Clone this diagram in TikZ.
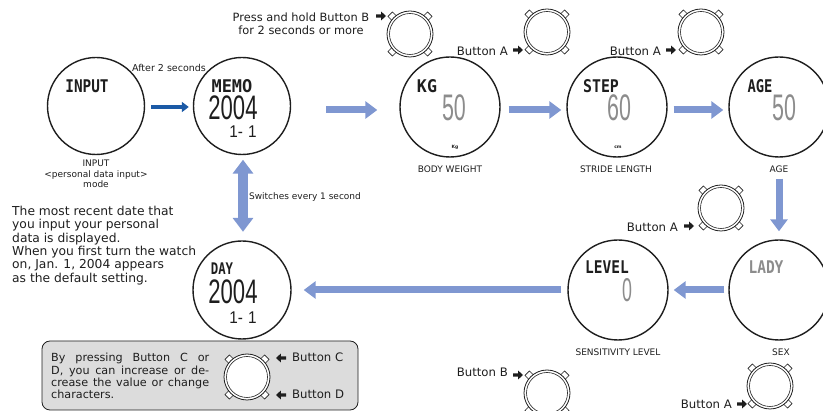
\documentclass[tikz,border=0pt]{standalone}
\usepackage{fontspec}
\usepackage{graphicx}
\setmainfont{DejaVu Sans}
\newfontfamily\lcdsym{DejaVu Sans Mono}
\newfontfamily\lcdnum{Liberation Sans}
\usetikzlibrary{arrows.meta}
\definecolor{lb}{HTML}{7F97D1}
\definecolor{db}{HTML}{1B5AA6}
\definecolor{lcdgray}{HTML}{8C8C8C}
\definecolor{boxgray}{HTML}{DCDCDC}
\definecolor{ink}{HTML}{1E1E1E}
\newcommand{\myfs}[2]{\fontsize{#1}{#2}\selectfont}
\begin{document}
\begin{tikzpicture}[x=1pt,y=-1pt,
  bigwatch/.style={circle, draw=ink, line width=1.4pt, inner sep=0pt},
  lbl/.style={font=\myfs{9}{10.7}, text=ink, inner sep=0pt, align=center},
  btn/.style={font=\myfs{11.7}{13}, text=ink, inner sep=0pt},
  lcdw/.style={font=\lcdsym\bfseries\myfs{17.5}{18}, text=ink, inner sep=0pt},
  lcdn/.style={font=\lcdnum\myfs{34}{35}, text=ink, inner sep=0pt},
  flow/.style={draw=lb, line width=7pt, -{Triangle[length=12pt,width=17pt]}},
  flowv/.style={draw=lb, line width=9.5pt, {Triangle[length=14pt,width=20pt]}-{Triangle[length=14pt,width=20pt]}},
  flowd/.style={draw=db, line width=4pt, -{Triangle[length=7pt,width=10pt]}},
  mwatch/.pic={
    \foreach \a in {45,135,225,315}{
      \draw[fill=white, draw=ink, line width=0.6pt, rotate=\a] (21.5,-3.2) rectangle (28,3.2);}
    \draw[fill=white, draw=ink, line width=0.8pt] (0,0) circle (23pt);
    \draw[draw=ink, line width=0.6pt] (0,0) circle (20.5pt);
  },
  fatr/.pic={\fill[ink] (-10,-1.7) -- (-4.8,-1.7) -- (-4.8,-4.4) -- (0,0) -- (-4.8,4.4) -- (-4.8,1.7) -- (-10,1.7) -- cycle;}
]
\useasboundingbox (0,0) rectangle (823,411);

% big watches
\node[bigwatch, minimum size=97pt] (input) at (96,106) {};
\node[bigwatch, minimum size=97pt] (memo) at (242,106) {};
\node[bigwatch, minimum size=100pt] (kg) at (450,107) {};
\node[bigwatch, minimum size=100pt] (step) at (617,107) {};
\node[bigwatch, minimum size=100pt] (age) at (779,107) {};
\node[bigwatch, minimum size=100pt] (lady) at (779,290) {};
\node[bigwatch, minimum size=100pt] (level) at (618,290) {};
\node[bigwatch, minimum size=98pt] (day) at (242,290) {};

% LCD contents
\node[lcdw] (tinput) at (87,86) {\scalebox{0.82}[1]{INPUT}};
\node[lcdw] (tmemo) at (232,86) {\scalebox{0.97}[1]{MEMO}};
\node[lcdn] (ymemo) at (233,108) {\scalebox{0.65}[1]{2004}};
\node[lcdn, font=\lcdnum\myfs{17}{18}] (dmemo) at (243,132) {\scalebox{0.9}[1]{1-\,\,1}};
\node[lcdw] (tkg) at (427,86) {\scalebox{0.95}[1]{KG}};
\node[lcdn, text=lcdgray, font=\lcdnum\myfs{37}{38}] (vkg) at (454,108) {\scalebox{0.58}[1]{50}};
\node[font=\bfseries\myfs{4.5}{5}, text=ink, inner sep=0pt] (ukg) at (455,147) {Kg};
\node[lcdw] (tstep) at (601,86) {\scalebox{0.85}[1]{STEP}};
\node[lcdn, text=lcdgray, font=\lcdnum\myfs{37}{38}] (vstep) at (619,108) {\scalebox{0.58}[1]{60}};
\node[font=\bfseries\myfs{4.5}{5}, text=ink, inner sep=0pt] (ustep) at (618,147) {cm};
\node[lcdw] (tage) at (760,86) {\scalebox{0.79}[1]{AGE}};
\node[lcdn, text=lcdgray, font=\lcdnum\myfs{37}{38}] (vage) at (784,108) {\scalebox{0.58}[1]{50}};
\node[lcdw, text=lcdgray] (tlady) at (766,267) {\scalebox{0.83}[1]{LADY}};
\node[lcdw] (tlevel) at (607,267) {\scalebox{0.83}[1]{LEVEL}};
\node[lcdn, text=lcdgray, font=\lcdnum\myfs{33}{34}] (vlevel) at (627,290) {\scalebox{0.54}[1]{0}};
\node[lcdw, font=\lcdsym\bfseries\myfs{16}{17}] (tday) at (222,269) {\scalebox{0.77}[1]{DAY}};
\node[lcdn] (yday) at (233,292) {\scalebox{0.65}[1]{2004}};
\node[lcdn, font=\lcdnum\myfs{17}{18}] (dday) at (243,318) {\scalebox{0.9}[1]{1-\,\,1}};

% labels
\node[lbl] (linput) at (96,174) {INPUT\\<personal data input>\\mode};
\node[lbl, font=\myfs{9.5}{11}] (lafter) at (169,68) {After 2 seconds};
\node[lbl] (lkg) at (450,169) {BODY WEIGHT};
\node[lbl] (lstep) at (616,169) {STRIDE LENGTH};
\node[lbl] (lage) at (779,169) {AGE};
\node[lbl] (llevel) at (618,352) {SENSITIVITY LEVEL};
\node[lbl] (lsex) at (781,352) {SEX};
\node[lbl] (lswitch) at (305,197) {Switches every 1 second};

\node[font=\myfs{12.3}{13.3}, text=ink, inner sep=0pt, align=left, anchor=north west] (para) at (12,206)
  {The most recent date that\\you input your personal\\data is displayed.\\When you first turn the watch\\on, Jan. 1, 2004 appears\\as the default setting.};

% flow arrows
\draw[flowd, shorten <=6pt, shorten >=4pt] ([yshift=-1pt]input.east) -- ([yshift=-1pt]memo.west);
\draw[flow, shorten <=35pt, shorten >=22pt] ([yshift=-4pt]memo.east) -- ([yshift=-3pt]kg.west);
\draw[flow, shorten <=8pt, shorten >=5pt] ([yshift=-3pt]kg.east) -- ([yshift=-3pt]step.west);
\draw[flow, shorten <=6pt, shorten >=5pt] ([yshift=-3pt]step.east) -- ([yshift=-3pt]age.west);
\draw[flow, shorten <=21pt, shorten >=8pt] (age.south) -- (lady.north);
\draw[flow, shorten <=4pt, shorten >=5pt] (lady.west) -- (level.east);
\draw[flow, shorten <=6pt, shorten >=12pt] (level.west) -- (day.east);
\draw[flowv, shorten <=4.5pt, shorten >=8.5pt] ([xshift=1pt]memo.south) -- ([xshift=1pt]day.north);

% small watches with button labels
\pic at (410,34) {mwatch};
\node[btn, align=center, font=\myfs{11.4}{13}] (lpress) at (301,23.5) {Press and hold Button B\\for 2 seconds or more};
\pic at (386,16) {fatr};

\pic at (547,32) {mwatch};
\node[btn, anchor=east] (lba1) at (508,51) {Button A};
\pic at (523,50) {fatr};

\pic at (701,32) {mwatch};
\node[btn, anchor=east] (lba2) at (661,51) {Button A};
\pic at (676,50) {fatr};

\pic at (721,208) {mwatch};
\node[btn, anchor=east] (lba3) at (678,227) {Button A};
\pic at (694,226) {fatr};

\pic at (547,393) {mwatch};
\node[btn, anchor=east] (lbb) at (508,372) {Button B};
\pic at (523,375) {fatr};

\pic at (770,386) {mwatch};
\node[btn, anchor=east] (lba4) at (732,404) {Button A};
\pic at (747,404) {fatr};

% info box
\node[draw=ink, fill=boxgray, rounded corners=8pt, line width=0.8pt, minimum width=316pt, minimum height=69pt, inner sep=0pt] (box) at (200,375.5) {};
\node[font=\myfs{11.2}{12.3}, text=ink, inner sep=0pt, align=left, anchor=north west] (boxtext) at (51,353)
  {\makebox[158pt][s]{By pressing Button C or}\\\makebox[158pt][s]{D, you can increase or de-}\\\makebox[158pt][s]{crease the value or change}\\characters.};
\pic at (247,377) {mwatch};
\node[btn] (lbc) at (292,357) [anchor=west] {Button C};
\node[btn] (lbd) at (292,394) [anchor=west] {Button D};
\pic[rotate=180] at (276,358) {fatr};
\pic[rotate=180] at (276,395) {fatr};
\end{tikzpicture}
\end{document}
